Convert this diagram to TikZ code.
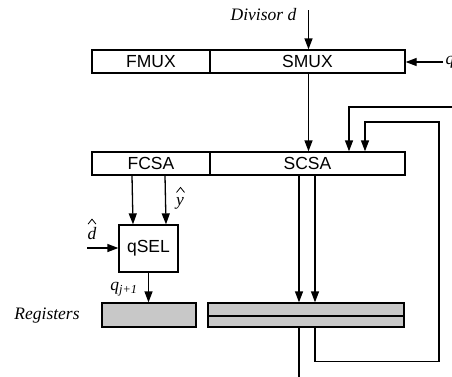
\documentclass[tikz,border=0pt]{standalone}
\usepackage{fontspec}
\setmainfont{Liberation Serif}
\setsansfont{Liberation Sans}
\usepackage{tikz}
\usetikzlibrary{arrows.meta,calc}
\definecolor{regfill}{RGB}{200,200,200}

\begin{document}
\begin{tikzpicture}[x=1pt,y=-1pt,line width=1.3pt,line join=miter,
    box/.style={draw,rectangle,inner sep=0pt,minimum height=23pt,
                font=\sffamily\fontsize{17.5}{20}\selectfont},
    reg/.style={draw,fill=regfill,rectangle,inner sep=0pt},
    sig/.style={-{Triangle[length=11pt,width=8pt]}},
    lbl/.style={font=\itshape\fontsize{17.5}{20}\selectfont,inner sep=1pt},
    hatmark/.style={line width=0.8pt,line join=miter}]
         \useasboundingbox (0,0) rectangle (452,376);
         % multiplexers and carry-save adders
         \node[box,minimum width=118pt] (fmux) at (151,61.5) {FMUX};
         \node[box,minimum width=195pt] (smux) at (307.5,61.5) {SMUX};
         \node[box,minimum width=118pt] (fcsa) at (151,163.5) {FCSA};
         \node[box,minimum width=195pt] (scsa) at (307.5,163.5) {SCSA};
         \node[box,minimum width=59pt,minimum height=47pt] (qsel) at (148.5,248.5) {qSEL};
         % registers
         \node[reg,minimum width=94pt,minimum height=24pt] (regl) at (149,315) {};
         \node[reg,minimum width=196pt,minimum height=13pt] (regt) at (306,309.5) {};
         \node[reg,minimum width=196pt,minimum height=11pt] (regb) at (306,321.5) {};
         % free ends
         \coordinate (din) at (308.5,10);
         \coordinate (qin) at (443,62);
         \coordinate (fbin) at (460,107);
         \coordinate (dhin) at (87,248);
         \coordinate (qout) at (299,380);
         % signals
         \draw[sig] (din) -- (din |- smux.north);
         \draw[sig] (qin) -- (smux.east |- qin);
         \draw[sig] (smux.south -| din) -- (scsa.north -| din);
         \draw[sig] (fbin) -| ($(scsa.north)+(41.5,0)$);
         \draw[sig] ($(regb.south)+(9,0)$) -- ++(0,34) -| (439,122) -| ($(scsa.north)+(57.5,0)$);
         \draw[sig] ($(scsa.south)+(-8.5,0)$) -- ($(regt.north)+(-7,0)$);
         \draw[sig] ($(scsa.south)+(7.5,0)$) -- ($(regt.north)+(9,0)$);
         \draw ($(regb.south)+(-7,0)$) -- (qout);
         \draw[sig] ($(fcsa.south)+(-19,0)$) -- ($(qsel.north)+(-15.5,0)$);
         \draw[sig] ($(fcsa.south)+(14,0)$) -- ($(qsel.north)+(17.5,0)$);
         \draw[sig] (dhin) -- (qsel.west |- dhin);
         \draw[sig] (qsel.south) -- (regl.north -| qsel.south);
         % labels
         \node[lbl,anchor=east] (ldiv) at (298,15) {Divisor d};
         \node[lbl,anchor=west] (lq) at (444,62) {q};
         \node[lbl] (lyh) at (180,203) {y};
         \node[lbl] (ldh) at (92,234) {d};
         \node[lbl] (lqj) at (124,289) {q\textsubscript{j+1}};
         \node[lbl] (lreg) at (47,316) {Registers};
         % hats over y and d
         \draw[hatmark] ($(lyh.north)+(-3.5,-3)$) -- ++(4,-5) -- ++(4,5);
         \draw[hatmark] ($(ldh.north)+(-4,-2)$) -- ++(4,-5) -- ++(4,5);
\end{tikzpicture}
\end{document}
